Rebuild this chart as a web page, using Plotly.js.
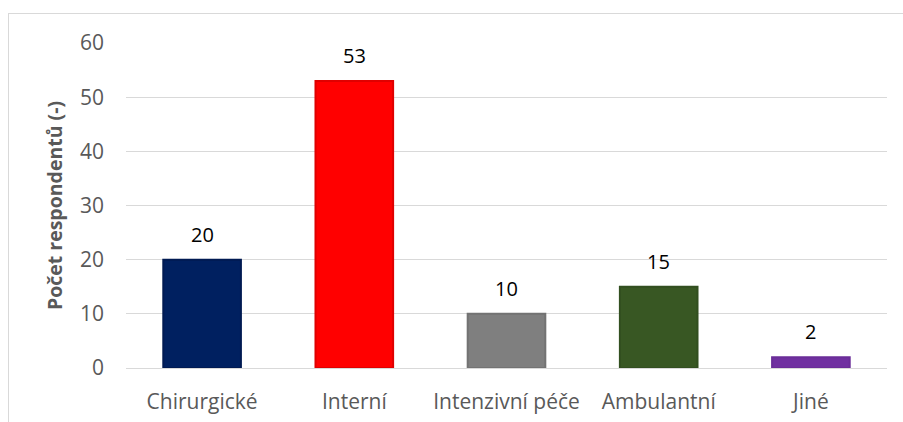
<!DOCTYPE html>
<html>
<head>
<meta charset="utf-8">
<script src="https://cdn.plot.ly/plotly-3.0.1.min.js"></script>
<style>
  html, body { margin: 0; padding: 0; width: 903px; height: 422px; overflow: hidden; background: #fff; }
  #frame { position: absolute; left: 8px; top: 13px; width: 1000px; height: 1000px; border: 1px solid #d9d9d9; box-sizing: border-box; }
  #chart { position: absolute; left: 0; top: 0; width: 903px; height: 422px; }
</style>
</head>
<body>
<div id="frame"></div>
<div id="chart"></div>
<script>
const categories = ["Chirurgické", "Interní", "Intenzivní péče", "Ambulantní", "Jiné"];
const values = [20, 53, 10, 15, 2];
const barColors = ["#002060", "#FF0000", "#7F7F7F", "#385723", "#7030A0"];
const edgeColors = ["#001a52", "#e00000", "#737373", "#324f20", "#6a2d98"];
const yTickVals = [0, 10, 20, 30, 40, 50, 60];
const yTitle = "Počet respondentů (-)";

const font = "'Open Sans', 'Noto Sans', sans-serif";

const trace = {
  type: "bar",
  x: categories,
  y: values,
  marker: { color: barColors, line: { color: edgeColors, width: 2 } },
  hoverinfo: "x+y"
};

const annotations = categories.map((c, i) => ({
  x: c, y: values[i], xref: "x", yref: "y",
  text: String(values[i]), showarrow: false,
  yanchor: "bottom", yshift: 10,
  font: { family: font, size: 20, color: "#000000" }
}));

const layout = {
  width: 903, height: 422,
  margin: { l: 126, r: 16, t: 43, b: 54 },
  paper_bgcolor: "rgba(0,0,0,0)",
  plot_bgcolor: "rgba(0,0,0,0)",
  showlegend: false,
  bargap: 0.49,
  font: { family: font, size: 21, color: "#595959" },
  xaxis: {
    type: "category",
    showgrid: false,
    showline: true, linecolor: "#d9d9d9", linewidth: 1,
    ticks: "", ticklabelstandoff: 15,
    tickfont: { family: font, size: 21, color: "#595959" }
  },
  yaxis: {
    range: [0, 60],
    tickvals: yTickVals,
    showgrid: true, gridcolor: "#d9d9d9", gridwidth: 1,
    zeroline: false, showline: false,
    ticks: "", ticklabelstandoff: 21,
    tickfont: { family: font, size: 21, color: "#595959" },
    title: { text: yTitle, standoff: 12, font: { family: font, size: 19.5, color: "#595959", weight: "bold" } }
  },
  annotations: annotations
};

Plotly.newPlot("chart", [trace], layout, { displayModeBar: false, staticPlot: true });
</script>
</body>
</html>
